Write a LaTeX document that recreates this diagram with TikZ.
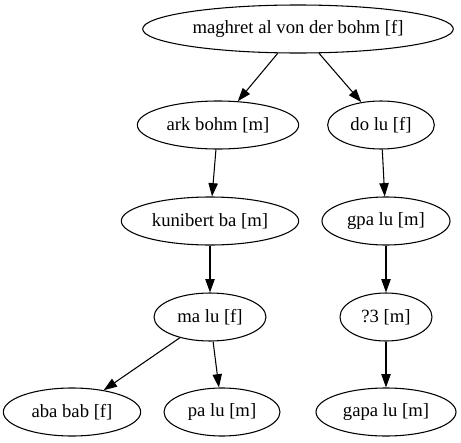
\documentclass[tikz,border=0pt]{standalone}
\usepackage{fontspec}
\setmainfont{Liberation Serif}
\usetikzlibrary{shapes.geometric,arrows.meta}

\tikzset{
  person/.style={ellipse, draw, line width=0.8pt, inner sep=0pt, minimum height=36pt,
    font=\fontsize{14}{16}\selectfont},
  child/.style={line width=0.8pt, -{Triangle[length=10pt,width=7pt]}}
}

\begin{document}
\begin{tikzpicture}[x=0.75pt,y=-0.75pt]
                \useasboundingbox (0,0) rectangle (461,443);

                \node[person, minimum width=233pt] (maghret) at (298,29) {maghret al von der bohm [f]};
                \node[person, minimum width=121pt] (ark) at (218,125) {ark bohm [m]};
                \node[person, minimum width=80pt] (do) at (381,125) {do lu [f]};
                \node[person, minimum width=133pt] (kunibert) at (210,221) {kunibert ba [m]};
                \node[person, minimum width=96pt] (gpa) at (386,221) {gpa lu [m]};
                \node[person, minimum width=84pt] (ma) at (210,317) {ma lu [f]};
                \node[person, minimum width=69pt] (q3) at (386,317) {?3 [m]};
                \node[person, minimum width=103pt] (aba) at (72,412) {aba bab [f]};
                \node[person, minimum width=87pt] (pa) at (222,412) {pa lu [m]};
                \node[person, minimum width=105pt] (gapa) at (386,412) {gapa lu [m]};

                \draw[child] (maghret) -- (ark);
                \draw[child] (maghret) -- (do);
                \draw[child] (ark) -- (kunibert);
                \draw[child] (do) -- (gpa);
                \draw[child] (kunibert) -- (ma);
                \draw[child] (gpa) -- (q3);
                \draw[child] (ma) -- (aba);
                \draw[child] (ma) -- (pa);
                \draw[child] (q3) -- (gapa);

        \end{tikzpicture}
\end{document}
